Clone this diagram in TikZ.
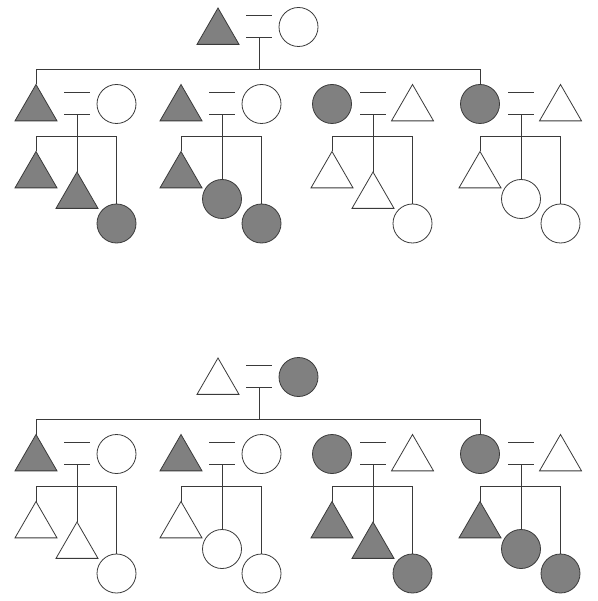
\documentclass[tikz,border=0pt]{standalone}
\usetikzlibrary{shapes.geometric}

\definecolor{shade}{HTML}{808080}
\definecolor{ink}{HTML}{3A3A3A}

\tikzset{
    person/.style={draw=ink, line width=0.8pt, inner sep=0pt, outer sep=0pt, anchor=north},
    male/.style={person, regular polygon, regular polygon sides=3, minimum size=48.5pt},
    female/.style={person, circle, minimum size=39pt},
    line/.style={draw=ink, line width=0.8pt}
}

\begin{document}
\begin{tikzpicture}[x=1pt,y=-1pt]
    \useasboundingbox (0,0) rectangle (597,601);

    % Two pedigrees: upper one (u) and lower one (l)
    \foreach \p/\dy/\fa/\mo/\kl/\kr in {u/0/shade/white/shade/white, l/350/white/shade/white/shade} {
        \begin{scope}[yshift=-\dy pt]
            % Founding couple
            \node[male,fill=\fa] (\p-fa) at (218,8) {};
            \node[female,fill=\mo] (\p-mo) at (298.5,7.5) {};
            \draw[line] (246,15.3) -- (272,15.3) (246,37.7) -- (272,37.7);
            \coordinate (\p-m) at (259,37.7);
            \coordinate (\p-sib) at (259,69.7);

            % Second generation with spouses and their children
            \foreach \x/\lk/\rk/\ks/\mk/\my [count=\i] in {36/male/female/\kl/male/172, 181/male/female/\kl/female/179.5, 332/female/male/\kr/male/172, 480/female/male/\kr/female/179.5} {
                \node[\lk,fill=shade] (\p-g\i) at (\x,84.5) {};
                \node[\rk,fill=white] (\p-s\i) at (\x+80.5,84.5) {};
                \draw[line] (\x+28,92) -- (\x+54,92) (\x+28,114.7) -- (\x+54,114.7);
                \coordinate (\p-m\i) at (\x+41,114.7);
                \coordinate (\p-sib\i) at (\x+41,136.5);

                % Children
                \node[male,fill=\ks] (\p-k\i a) at (\x,151.5) {};
                \node[\mk,fill=\ks] (\p-k\i b) at (\x+41,\my) {};
                \node[female,fill=\ks] (\p-k\i c) at (\x+80.5,204) {};
                \draw[line] (\p-k\i a.north) |- (\p-sib\i) -| (\p-k\i c.north);
                \draw[line] (\p-m\i) -- (\p-k\i b.north);
            }

            % Sibship line of the second generation
            \draw[line] (\p-g1.north) |- (\p-sib) -| (\p-g4.north);
            \draw[line] (\p-m) -- (\p-sib);
        \end{scope}
    }
\end{tikzpicture}
\end{document}
